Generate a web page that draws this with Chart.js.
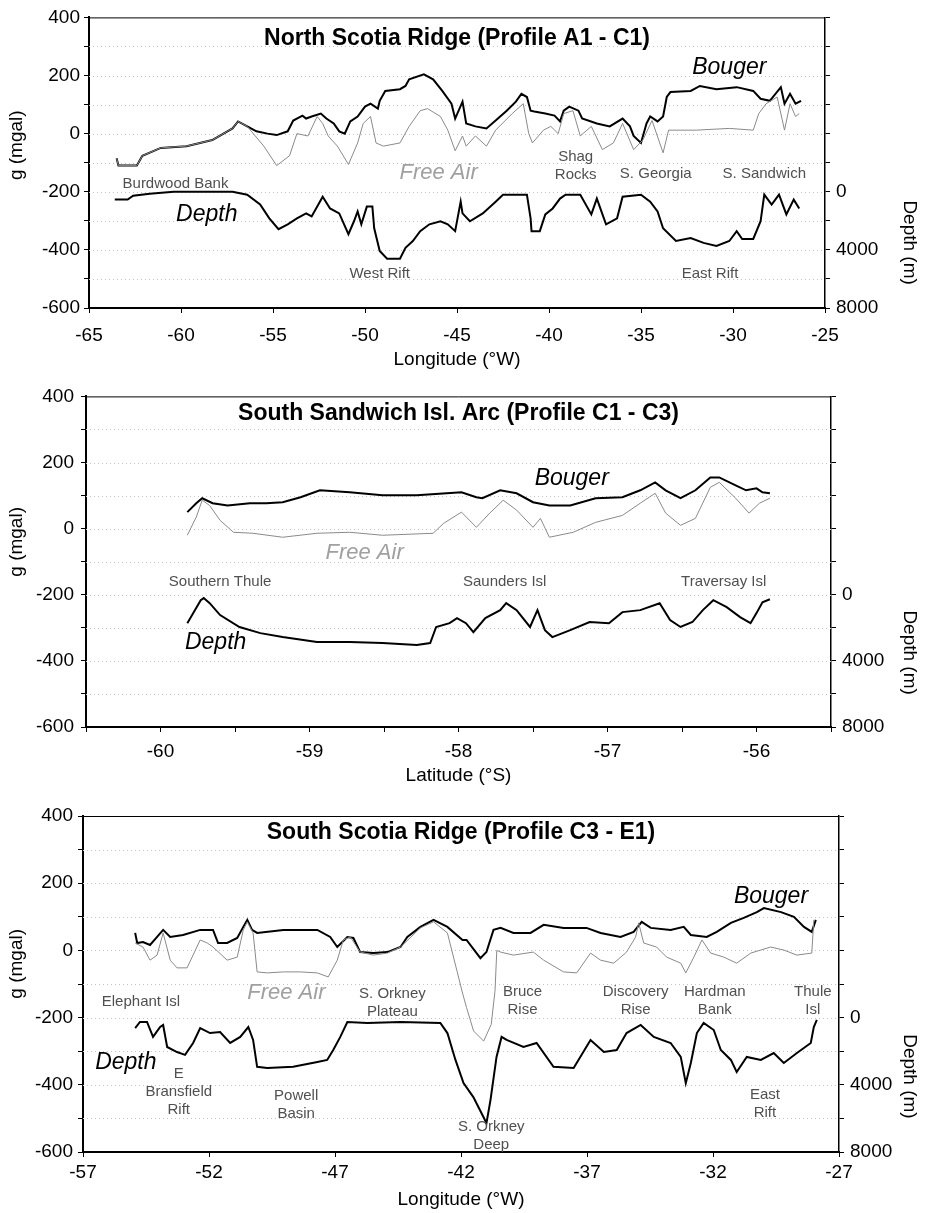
<!DOCTYPE html>
<html>
<head>
<meta charset="utf-8">
<script src="https://cdn.jsdelivr.net/npm/chart.js@4.4.1/dist/chart.umd.min.js"></script>
<style>
  body { margin: 0; background: #fff; }
  .panel { position: absolute; left: 0; width: 926px; }
</style>
</head>
<body>
<div class="panel" style="top:0;height:375px"><canvas id="c1"></canvas></div>
<div class="panel" style="top:378px;height:412px"><canvas id="c2"></canvas></div>
<div class="panel" style="top:795px;height:418px"><canvas id="c3"></canvas></div>
<script>
// shared axis labels
const gTicks = [-600, -400, -200, 0, 200, 400];
const depthTicks = [0, 4000, 8000];

// ---- North Scotia Ridge (A1 - C1), longitude
const p1XLabels = [-65, -60, -55, -50, -45, -40, -35, -30, -25];
const p1BougerLon = [-63.5,-63.4,-62.4,-62.1,-61.1,-59.7,-58.3,-57.2,-56.9,-56.4,
  -55.9,-55.3,-54.8,-54.2,-53.9,-53.4,-53.2,-52.9,-52.4,-52.1,
  -51.7,-51.4,-51.1,-50.8,-50.4,-50.0,-49.7,-49.3,-49.2,-48.9,
  -48.1,-47.8,-47.6,-46.8,-46.3,-45.8,-45.3,-45.1,-44.7,-44.5,
  -44.0,-43.4,-42.9,-42.3,-41.8,-41.5,-41.2,-41.0,-40.8,-40.2,
  -39.7,-39.4,-39.2,-38.9,-38.4,-38.2,-37.4,-36.7,-36.0,-35.6,
  -35.4,-35.0,-34.7,-34.5,-34.1,-33.8,-33.6,-33.4,-32.3,-31.8,
  -30.9,-29.8,-28.9,-28.5,-28.0,-27.4,-27.2,-26.9,-26.6,-26.3];
const p1BougerG = [-85,-110,-110,-76,-49,-43,-22,18,42,25,
  8,0,-5,8,45,62,52,59,69,52,
  35,8,0,42,59,93,103,86,113,147,
  153,164,187,204,187,147,103,52,110,35,
  25,18,45,79,110,137,126,79,76,69,
  62,42,79,93,79,52,35,25,52,25,
  -8,-32,35,59,42,59,126,143,147,164,
  153,160,147,120,113,160,103,137,103,113];
const p1FreeLon = [-63.5,-63.4,-62.4,-62.1,-61.1,-59.7,-58.3,-57.2,-56.9,-56.4,
  -55.5,-54.8,-54.1,-53.7,-53.1,-52.6,-52.3,-52.0,-51.5,-50.9,
  -50.4,-50.1,-49.7,-49.4,-49.0,-48.1,-47.6,-47.0,-46.6,-45.9,
  -45.5,-45.1,-44.7,-44.5,-44.0,-43.4,-42.9,-42.0,-41.4,-41.1,
  -40.9,-40.3,-39.9,-39.5,-39.2,-38.7,-38.3,-37.7,-37.1,-36.5,
  -36.0,-35.4,-34.9,-34.4,-33.8,-33.5,-32.0,-30.2,-28.9,-28.6,
  -28.2,-27.6,-27.2,-26.9,-26.6,-26.4];
const p1FreeG = [-85,-110,-110,-76,-49,-43,-22,18,42,25,
  -43,-110,-76,0,-8,59,35,-8,-43,-106,
  -32,35,59,-32,-43,-32,25,79,86,59,
  12,-59,-8,-43,-8,-43,12,69,103,0,
  -32,12,25,0,69,79,-8,25,-55,-32,
  35,-55,-22,45,-66,12,12,18,12,69,
  103,126,12,103,59,69];
const p1DepthLon = [-63.6,-62.9,-62.6,-61.7,-60.4,-57.2,-56.4,-55.7,-55.2,-54.7,
  -54.2,-53.7,-53.2,-52.9,-52.3,-51.9,-51.4,-50.9,-50.6,-50.4,
  -50.2,-49.9,-49.6,-49.5,-49.2,-48.8,-48.1,-47.8,-47.4,-47.0,
  -46.5,-45.9,-45.5,-45.1,-44.8,-44.7,-44.3,-43.6,-42.9,-42.5,
  -41.2,-41.0,-40.95,-40.5,-40.2,-39.8,-39.4,-39.1,-38.3,-37.7,
  -37.4,-36.9,-36.3,-36.0,-35.0,-34.5,-34.1,-33.8,-33.1,-32.3,
  -31.6,-30.9,-30.2,-29.8,-29.5,-28.9,-28.5,-28.3,-27.9,-27.5,
  -27.1,-26.7,-26.4];
const p1DepthM = [540,540,270,135,0,0,200,880,1830,2580,
  2240,1830,1490,1700,340,1150,1490,2920,2030,1360,
  2240,1020,1020,2510,4070,4610,4610,3860,3390,2710,
  2240,2030,2240,2710,680,1490,2030,1490,680,200,
  200,1830,2710,2710,1560,1150,470,200,200,1560,
  470,2240,1830,340,200,680,1360,2510,3390,3190,
  3520,3730,3390,2710,3250,3250,2030,200,880,200,
  1560,540,1150];

// ---- South Sandwich Isl. Arc (C1 - C3), latitude
const p2XLabels = [-60, -59, -58, -57, -56];
const p2BougerLat = [-59.82,-59.76,-59.72,-59.65,-59.55,-59.40,-59.29,-59.18,-59.06,-58.93,
  -58.73,-58.51,-58.28,-57.98,-57.88,-57.84,-57.72,-57.61,-57.50,-57.39,
  -57.25,-57.08,-56.90,-56.78,-56.68,-56.61,-56.51,-56.41,-56.31,-56.25,
  -56.14,-56.07,-56.00,-55.96,-55.91];
const p2BougerG = [50,77,92,77,70,77,77,80,95,116,
  110,101,101,110,95,92,116,107,80,70,
  70,92,95,116,140,116,92,116,155,155,
  131,116,122,110,107];
const p2FreeLat = [-59.82,-59.76,-59.72,-59.67,-59.60,-59.51,-59.38,-59.18,-58.95,-58.73,
  -58.51,-58.17,-58.10,-57.98,-57.88,-57.79,-57.70,-57.61,-57.50,-57.45,
  -57.39,-57.23,-57.08,-56.90,-56.78,-56.68,-56.61,-56.51,-56.41,-56.31,
  -56.25,-56.14,-56.05,-55.98,-55.91];
const p2FreeG = [-20,35,86,70,25,-11,-14,-26,-14,-11,
  -20,-14,16,50,4,47,86,56,4,31,
  -26,-11,19,40,77,107,47,10,31,125,
  140,92,47,77,92];
const p2DepthLat = [-59.82,-59.78,-59.73,-59.71,-59.67,-59.60,-59.47,-59.33,-59.18,-58.95,
  -58.73,-58.51,-58.28,-58.19,-58.15,-58.06,-58.01,-57.95,-57.90,-57.82,
  -57.72,-57.68,-57.61,-57.52,-57.47,-57.42,-57.37,-57.25,-57.12,-56.99,
  -56.90,-56.78,-56.65,-56.58,-56.51,-56.43,-56.36,-56.29,-56.20,-56.11,
  -56.04,-56.00,-55.96,-55.91];
const p2DepthM = [1720,1110,330,200,510,1230,1950,2320,2560,2860,
  2860,2920,3040,2920,1950,1720,1410,1720,2260,1410,
  930,510,930,1950,930,2140,2560,2140,1650,1720,
  1050,930,510,1530,1950,1650,930,330,750,1350,
  1720,1110,450,270];

// ---- South Scotia Ridge (C3 - E1), longitude
const p3XLabels = [-57, -52, -47, -42, -37, -32, -27];
const p3BougerLon = [-54.93,-54.85,-54.62,-54.34,-54.06,-53.82,-53.54,-53.03,-52.35,-51.84,
  -51.64,-51.28,-50.88,-50.64,-50.48,-50.29,-50.09,-49.05,-47.70,-47.19,
  -46.91,-46.51,-46.27,-46.00,-45.48,-44.92,-44.40,-44.13,-43.61,-43.09,
  -42.54,-41.94,-41.78,-41.23,-40.99,-40.71,-40.43,-39.92,-39.24,-38.72,
  -37.93,-37.02,-36.46,-35.67,-35.15,-34.83,-34.47,-33.68,-33.16,-32.88,
  -32.25,-31.85,-31.29,-30.78,-30.26,-29.98,-29.30,-28.79,-28.39,-28.08,
  -27.92];
const p3BougerG = [52,22,25,16,40,61,40,46,61,61,
  22,22,37,70,91,61,52,61,61,40,
  10,40,37,-5,-8,-5,10,40,70,91,
  70,31,31,-23,-5,61,67,52,52,76,
  67,67,52,40,55,85,67,61,70,46,
  40,55,82,97,114,126,114,100,70,55,
  91];
const p3FreeLon = [-54.93,-54.62,-54.34,-54.06,-53.82,-53.54,-53.27,-52.87,-52.35,-52.07,
  -51.84,-51.28,-50.88,-50.64,-50.48,-50.25,-50.09,-49.69,-49.05,-48.38,
  -47.70,-47.27,-46.91,-46.67,-46.39,-46.00,-45.48,-44.92,-44.40,-43.61,
  -43.09,-42.54,-42.14,-41.94,-41.78,-41.50,-41.10,-40.80,-40.65,-40.58,
  -40.43,-39.92,-39.13,-38.72,-37.93,-37.41,-36.86,-36.46,-35.94,-35.43,
  -35.07,-34.95,-34.75,-34.24,-33.84,-33.28,-33.08,-32.76,-32.44,-32.09,
  -31.57,-31.06,-30.50,-29.71,-29.19,-28.67,-28.08,-28.00];
const p3FreeG = [22,10,-29,-14,52,-29,-52,-52,31,22,
  10,-29,-20,61,85,52,-64,-67,-64,-64,
  -67,-79,-29,31,40,-5,-14,-8,10,67,
  85,52,-67,-127,-170,-240,-270,-220,-120,0,
  -5,-14,-5,-29,-64,-67,-8,-29,-38,-5,
  40,82,22,10,-20,-38,-67,-20,31,-8,
  -20,-38,-8,10,1,-14,-8,91];
const p3DepthLon = [-54.93,-54.74,-54.46,-54.22,-53.94,-53.82,-53.66,-53.27,-52.95,-52.63,
  -52.35,-51.96,-51.56,-51.16,-50.76,-50.44,-50.25,-50.09,-49.69,-48.66,
  -47.70,-47.31,-47.07,-46.79,-46.51,-45.72,-44.40,-42.82,-42.54,-42.22,
  -41.90,-41.51,-41.11,-40.99,-40.83,-40.59,-40.39,-40.19,-39.52,-39.00,
  -38.33,-37.53,-36.86,-36.33,-35.82,-35.43,-34.87,-34.35,-33.68,-33.28,
  -33.08,-32.88,-32.64,-32.37,-31.97,-31.69,-31.29,-31.06,-30.66,-30.10,
  -29.59,-29.19,-28.67,-28.12,-28.00,-27.88];
const p3DepthM = [620,260,260,1150,560,440,1750,2050,2220,1510,
  620,920,860,1510,1150,560,1330,2930,3000,2930,
  2640,2520,1930,1150,260,320,260,320,920,2520,
  3900,4730,5920,6280,4910,2340,1150,1330,1750,1510,
  2930,3000,1330,2050,1930,920,440,1150,1510,2340,
  3900,2700,920,320,740,1930,2520,3240,2340,2520,
  2110,2700,2110,1510,560,140];

// labels written on the plots: [text, x, g, kind]
const p1Notes = [
  ['Burdwood Bank', -60.3, -174, 'n'], ['Free Air', -46.0, -134, 'f'],
  ['Shag\nRocks', -38.55, -110, 'n'], ['S. Georgia', -34.2, -140, 'n'],
  ['S. Sandwich', -28.3, -140, 'n'], ['Bouger', -30.2, 228, 's'],
  ['Depth', -58.6, -279, 's'], ['West Rift', -49.2, -482, 'n'],
  ['East Rift', -31.25, -482, 'n']
];
const p2Notes = [
  ['Southern Thule', -59.6, -162, 'n'], ['Free Air', -58.63, -74, 'f'],
  ['Bouger', -57.24, 152, 's'], ['Saunders Isl', -57.69, -162, 'n'],
  ['Traversay Isl', -56.22, -162, 'n'], ['Depth', -59.63, -346, 's']
];
const p3Notes = [
  ['Elephant Isl', -54.7, -154, 'n'], ['Free Air', -48.93, -127, 'f'],
  ['S. Orkney\nPlateau', -44.72, -155, 'n'], ['E\nBransfield\nRift', -53.2, -421, 'n'],
  ['Depth', -55.3, -335, 's'], ['Powell\nBasin', -48.54, -460, 'n'],
  ['S. Orkney\nDeep', -40.8, -553, 'n'], ['Bruce\nRise', -39.56, -150, 'n'],
  ['Discovery\nRise', -35.07, -150, 'n'], ['Hardman\nBank', -31.93, -150, 'n'],
  ['Thule\nIsl', -28.04, -150, 'n'], ['Bouger', -29.7, 159, 's'],
  ['East\nRift', -29.94, -456, 'n']
];

const FONT = '"Liberation Sans", Arial, sans-serif';
function pts(xs, ys) { return xs.map((x, i) => ({ x: x, y: ys[i] })); }

function makePanel(id, cfg) {
  const deco = {
    id: 'deco',
    beforeDatasetsDraw(chart) {
      const ctx = chart.ctx, a = chart.chartArea, sy = chart.scales.y;
      ctx.save();
      ctx.strokeStyle = '#c4c4c4';
      ctx.lineWidth = 1;
      ctx.setLineDash([1, 3]);
      for (let g = -500; g <= 300; g += 100) {
        const y = Math.round(sy.getPixelForValue(g)) + 0.5;
        ctx.beginPath(); ctx.moveTo(a.left, y); ctx.lineTo(a.right, y); ctx.stroke();
      }
      ctx.restore();
    },
    afterDraw(chart) {
      const ctx = chart.ctx, a = chart.chartArea;
      const sx = chart.scales.x, sy = chart.scales.y, sd = chart.scales.y2;
      ctx.save();
      ctx.strokeStyle = '#000';
      ctx.lineWidth = 1;
      ctx.beginPath(); ctx.moveTo(a.left, a.top + 0.5); ctx.lineTo(a.right, a.top + 0.5); ctx.stroke();

      ctx.fillStyle = '#000';
      ctx.textAlign = 'center';
      ctx.textBaseline = 'middle';
      ctx.font = 'bold 23px ' + FONT;
      ctx.fillText(cfg.title, (a.left + a.right) / 2, a.top + cfg.titleDy);

      ctx.font = '19px ' + FONT;
      ctx.fillText(cfg.xTitle, (a.left + a.right) / 2, a.bottom + cfg.xTitleDy);

      ctx.save();
      ctx.translate(17, sy.getPixelForValue(-40));
      ctx.rotate(-Math.PI / 2);
      ctx.fillText('g (mgal)', 0, 0);
      ctx.restore();

      ctx.save();
      ctx.translate(909, sd.getPixelForValue(3500));
      ctx.rotate(Math.PI / 2);
      ctx.fillText('Depth (m)', 0, 0);
      ctx.restore();

      cfg.notes.forEach(n => {
        const lines = n[0].split('\n');
        const px = sx.getPixelForValue(n[1]);
        const py = sy.getPixelForValue(n[2]);
        if (n[3] === 'n') { ctx.font = '15px ' + FONT; ctx.fillStyle = '#505050'; }
        else if (n[3] === 'f') { ctx.font = 'italic 22px ' + FONT; ctx.fillStyle = '#a0a0a0'; }
        else { ctx.font = 'italic 23px ' + FONT; ctx.fillStyle = '#000'; }
        const lh = 18;
        lines.forEach((t, i) => {
          ctx.fillText(t, px, py + (i - (lines.length - 1) / 2) * lh);
        });
      });
      ctx.restore();
    }
  };

  const tickFont = { family: FONT, size: 19 };
  return new Chart(document.getElementById(id), {
    type: 'line',
    data: {
      datasets: [
        { label: 'Free Air', data: pts(cfg.freeX, cfg.freeG), borderColor: '#8a8a8a', borderWidth: 1, yAxisID: 'y' },
        { label: 'Bouger', data: pts(cfg.bougerX, cfg.bougerG), borderColor: '#000', borderWidth: 2, yAxisID: 'y' },
        { label: 'Depth', data: pts(cfg.depthX, cfg.depthM), borderColor: '#000', borderWidth: 2, yAxisID: 'y2' }
      ]
    },
    options: {
      responsive: true,
      maintainAspectRatio: false,
      animation: false,
      layout: { padding: { top: cfg.top, left: 0, right: 0, bottom: 0 } },
      elements: { point: { radius: 0 }, line: { tension: 0 } },
      plugins: { legend: { display: false }, tooltip: { enabled: false } },
      scales: {
        x: {
          type: 'linear', min: cfg.xMin, max: cfg.xMax,
          afterFit: s => { s.height = cfg.xH; },
          ticks: {
            stepSize: cfg.xStep, autoSkip: false, maxRotation: 0, color: '#000', font: tickFont,
            padding: cfg.xPad,
            callback: v => cfg.xLabels.includes(v) ? String(v) : ''
          },
          grid: { drawOnChartArea: false, tickLength: 5, tickColor: '#000' },
          border: { color: '#000', width: 2 }
        },
        y: {
          position: 'left', min: -600, max: 400,
          afterFit: s => { s.width = cfg.left; },
          ticks: {
            stepSize: 100, autoSkip: false, color: '#000', font: tickFont, padding: cfg.yPad,
            callback: v => gTicks.includes(v) ? String(v) : ''
          },
          grid: { drawOnChartArea: false, tickLength: 5, tickColor: '#000' },
          border: { color: '#000', width: 2 }
        },
        y2: {
          position: 'right', min: -12000, max: 8000, reverse: true,
          afterFit: s => { s.width = cfg.rightW; },
          ticks: {
            stepSize: 2000, autoSkip: false, color: '#000', font: tickFont, padding: 6,
            callback: v => depthTicks.includes(v) ? String(v) : ''
          },
          grid: { drawOnChartArea: false, tickLength: 5, tickColor: '#000' },
          border: { color: '#000', width: 1.5 }
        }
      }
    },
    plugins: [deco]
  });
}

makePanel('c1', {
  title: 'North Scotia Ridge (Profile A1 - C1)', xTitle: 'Longitude (\u00B0W)',
  xMin: -65, xMax: -25, xStep: 5, xLabels: p1XLabels,
  freeX: p1FreeLon, freeG: p1FreeG, bougerX: p1BougerLon, bougerG: p1BougerG,
  depthX: p1DepthLon, depthM: p1DepthM, notes: p1Notes,
  top: 12, left: 89, rightW: 101, xH: 67, xPad: 11, yPad: 4,
  titleDy: 21, xTitleDy: 52
});
makePanel('c2', {
  title: 'South Sandwich Isl. Arc (Profile C1 - C3)', xTitle: 'Latitude (\u00B0S)',
  xMin: -60.5, xMax: -55.5, xStep: 0.5, xLabels: p2XLabels,
  freeX: p2FreeLat, freeG: p2FreeG, bougerX: p2BougerLat, bougerG: p2BougerG,
  depthX: p2DepthLat, depthM: p2DepthM, notes: p2Notes,
  top: 18, left: 86, rightW: 95, xH: 63, xPad: 8, yPad: 7,
  titleDy: 17, xTitleDy: 49
});
makePanel('c3', {
  title: 'South Scotia Ridge (Profile C3 - E1)', xTitle: 'Longitude (\u00B0W)',
  xMin: -57, xMax: -27, xStep: 5, xLabels: p3XLabels,
  freeX: p3FreeLon, freeG: p3FreeG, bougerX: p3BougerLon, bougerG: p3BougerG,
  depthX: p3DepthLon, depthM: p3DepthM, notes: p3Notes,
  top: 21, left: 83, rightW: 87, xH: 61, xPad: 4, yPad: 5,
  titleDy: 17, xTitleDy: 48
});
</script>
</body>
</html>
